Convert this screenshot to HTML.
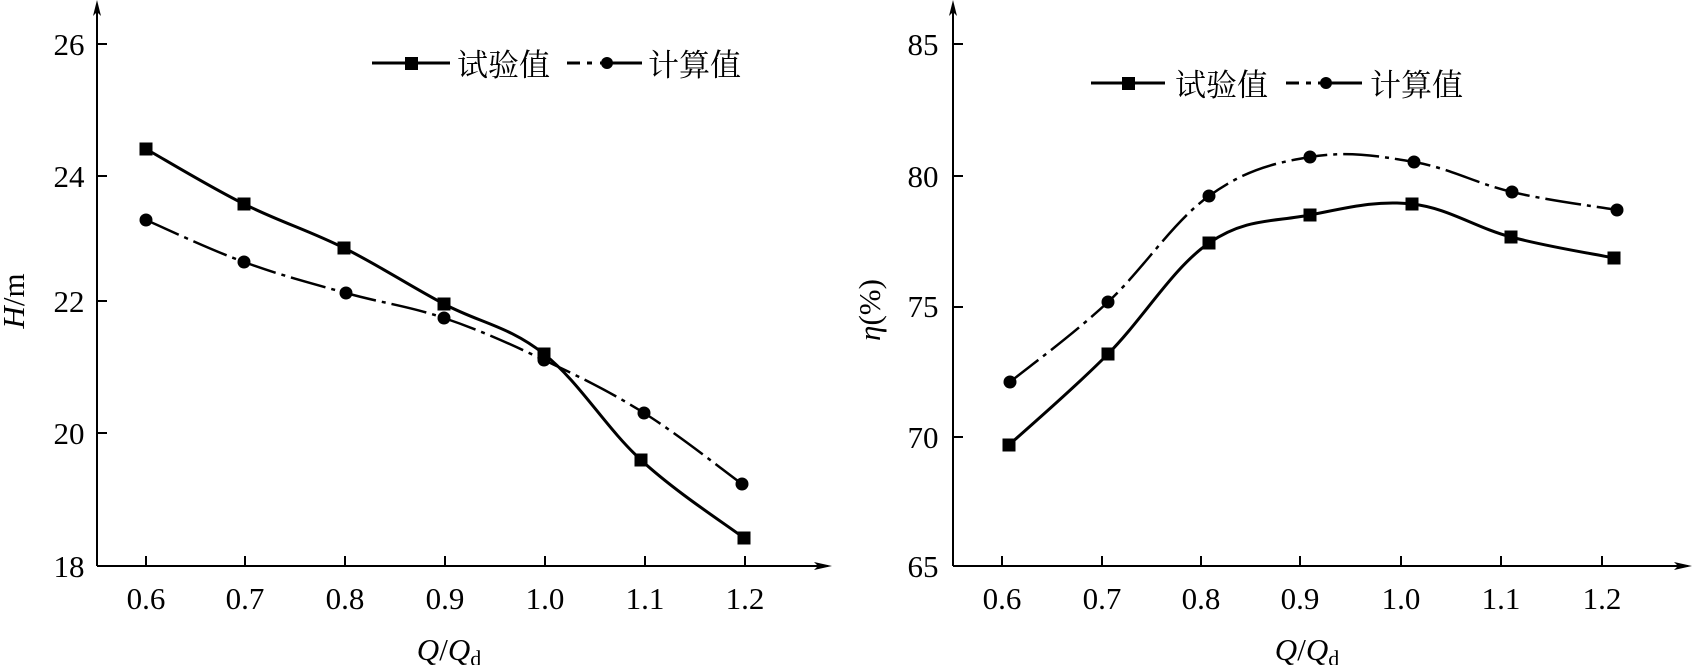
<!DOCTYPE html>
<html><head><meta charset="utf-8"><style>
body{margin:0;background:#fff;}
svg{display:block}
text{font-family:"Liberation Serif","Noto Serif CJK SC",serif;fill:#000}
.cj{font-family:"Liberation Serif","Noto Serif CJK SC",serif}
</style></head><body>
<svg id="s" width="1692" height="665" viewBox="0 0 1692 665" xmlns="http://www.w3.org/2000/svg">
<g stroke="#000" stroke-width="2" fill="none">
<line x1="97" y1="566" x2="97" y2="4"/>
<line x1="97" y1="566" x2="828" y2="566"/>
<line x1="953" y1="566" x2="953" y2="4"/>
<line x1="953" y1="566" x2="1688" y2="566"/>
</g>
<g fill="#000">
<path d="M97,0 L93,16 L97,12 L101,16Z"/>
<path d="M832,566 L814,562 L818,566 L814,570Z"/>
<path d="M953,0 L949,16 L953,12 L957,16Z"/>
<path d="M1692,566 L1674,562 L1678,566 L1674,570Z"/>
</g>
<g id="ticks" stroke="#000" stroke-width="2"></g>
<g font-size="31" text-anchor="middle">
<text x="69" y="55">26</text><text x="69" y="187">24</text><text x="69" y="312">22</text><text x="69" y="444">20</text><text x="69" y="577">18</text>
<text x="923" y="55">85</text><text x="923" y="187">80</text><text x="923" y="317">75</text><text x="923" y="448">70</text><text x="923" y="577">65</text>
</g>
<g id="xl" font-size="31" text-anchor="middle"></g>
<text x="449" y="660" font-size="31" text-anchor="middle"><tspan font-style="italic">Q</tspan>/<tspan font-style="italic">Q</tspan><tspan font-size="22" dy="6">d</tspan></text>
<text x="1307" y="660" font-size="31" text-anchor="middle"><tspan font-style="italic">Q</tspan>/<tspan font-style="italic">Q</tspan><tspan font-size="22" dy="6">d</tspan></text>
<text transform="translate(24,301) rotate(-90)" font-size="31" text-anchor="middle"><tspan font-style="italic">H</tspan>/m</text>
<text transform="translate(880,310) rotate(-90)" font-size="31" text-anchor="middle"><tspan font-style="italic">η</tspan>(%)</text>
<g stroke="#000" stroke-width="3">
<line x1="372" y1="63" x2="450" y2="63"/>
<line x1="567" y1="63" x2="580" y2="63"/><line x1="587" y1="63" x2="592" y2="63"/><line x1="600" y1="63" x2="642" y2="63"/>
<line x1="1091" y1="83" x2="1165" y2="83"/>
<line x1="1286" y1="83" x2="1299" y2="83"/><line x1="1306" y1="83" x2="1311" y2="83"/><line x1="1318" y1="83" x2="1362" y2="83"/>
</g>
<rect x="405" y="57" width="13" height="13"/><circle cx="607" cy="63" r="6"/>
<rect x="1122" y="77" width="13" height="13"/><circle cx="1326" cy="83" r="6"/>
<text class="cj" x="457" y="76" font-size="31">试验值</text>
<text class="cj" x="648" y="76" font-size="31">计算值</text>
<text class="cj" x="1175" y="96" font-size="31">试验值</text>
<text class="cj" x="1370" y="96" font-size="31">计算值</text>
<g id="series"></g>
</svg>
<script>
var NS="http://www.w3.org/2000/svg";
function el(p,t,a){var e=document.createElementNS(NS,t);for(var k in a)e.setAttribute(k,a[k]);p.appendChild(e);return e;}
var tk=document.getElementById('ticks'),xl=document.getElementById('xl');
var lx=[146,245,345,445,545,645,745],rx=[1002,1102,1201,1300,1401,1501,1602],lab=['0.6','0.7','0.8','0.9','1.0','1.1','1.2'];
lx.forEach(function(x,i){el(tk,'line',{x1:x,y1:566,x2:x,y2:556});var t=el(xl,'text',{x:x,y:609});t.textContent=lab[i];});
rx.forEach(function(x,i){el(tk,'line',{x1:x,y1:566,x2:x,y2:556});var t=el(xl,'text',{x:x,y:609});t.textContent=lab[i];});
[44,176,301,433].forEach(function(y){el(tk,'line',{x1:97,y1:y,x2:107,y2:y});});
[44,176,307,437].forEach(function(y){el(tk,'line',{x1:953,y1:y,x2:963,y2:y});});
function path(p){var d='M'+p[0][0]+','+p[0][1];for(var i=0;i<p.length-1;i++){var a=p[i-1]||p[i],b=p[i],c=p[i+1],e=p[i+2]||c;var t=0.18;
d+=' C'+(b[0]+(c[0]-a[0])*t)+','+(b[1]+(c[1]-a[1])*t)+' '+(c[0]-(e[0]-b[0])*t)+','+(c[1]-(e[1]-b[1])*t)+' '+c[0]+','+c[1];}return d;}
var S=document.getElementById('series');
var sets=[
{p:[[146,149],[244,204],[344,248],[444,304],[544,354],[641,460],[744,538]],sq:1},
{p:[[146,220],[244,262],[346,293],[444,318],[544,360],[644,413],[742,484]],sq:0},
{p:[[1009,445],[1108,354],[1209,243],[1310,215],[1412,204],[1511,237],[1614,258]],sq:1},
{p:[[1010,382],[1108,302],[1209,196],[1310,157],[1414,162],[1512,192],[1617,210]],sq:0}];
sets.forEach(function(s){var a={d:path(s.p),fill:'none',stroke:'#000','stroke-width':s.sq?3:2.5};if(!s.sq)a['stroke-dasharray']='36 6 4 6';el(S,'path',a);
s.p.forEach(function(q){if(s.sq)el(S,'rect',{x:q[0]-6.5,y:q[1]-6.5,width:13,height:13});else el(S,'circle',{cx:q[0],cy:q[1],r:6.5});});});
</script>
</body></html>
